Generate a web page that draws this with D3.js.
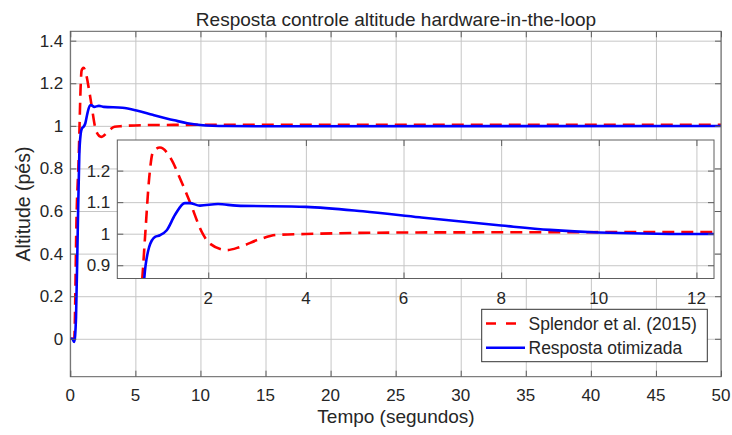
<!DOCTYPE html>
<html>
<head>
<meta charset="utf-8">
<script src="https://cdn.jsdelivr.net/npm/d3@7"></script>
<style>
  body { margin: 0; background: #fff; }
  svg text { font-family: "Liberation Sans", Arial, Helvetica, sans-serif; fill: #262626; }
</style>
</head>
<body>
<div id="chart"></div>
<script>
// values
const splendorTime = [0, 0.3, 0.49, 0.65, 0.71, 0.79, 0.87, 1.01, 1.25, 1.42, 1.62, 1.9, 2.03, 2.38, 2.65, 3.06, 3.4, 4.0, 6.3, 12.4, 50];
const splendorAlt  = [0, 0, 0.6, 0.86, 1.0, 1.176, 1.26, 1.273, 1.234, 1.176, 1.102, 0.996, 0.969, 0.948, 0.958, 0.983, 0.996, 0.999, 1.004, 1.005, 1.005];

const otimTime = [0, 0.15, 0.3, 0.44, 0.57, 0.69, 0.79, 0.91, 1.01, 1.15, 1.32, 1.52, 1.62, 1.83, 2.2, 2.58, 4.0, 5.17, 6.33, 8.0, 9.0, 10.0, 12.0, 15, 50];
const otimAlt  = [0, 0, -0.015, 0.1, 0.5, 0.86, 0.958, 0.99, 0.995, 1.011, 1.06, 1.097, 1.097, 1.089, 1.094, 1.089, 1.085, 1.071, 1.052, 1.026, 1.012, 1.004, 0.999, 0.998, 0.999];

const xTicks = [0, 5, 10, 15, 20, 25, 30, 35, 40, 45, 50];
const yTicks = [0, 0.2, 0.4, 0.6, 0.8, 1, 1.2, 1.4];
const insetXTicks = [2, 4, 6, 8, 10, 12];
const insetYTicks = [0.9, 1, 1.1, 1.2];

const seriesNames = ['Splendor et al. (2015)', 'Resposta otimizada'];
const titleText = 'Resposta controle altitude hardware-in-the-loop';
const xLabel = 'Tempo (segundos)';
const yLabel = 'Altitude (pés)';

const width = 732, height = 435;
const gridColor = '#c6c6c6', boxColor = '#5e5e5e';
const red = '#ff0000', blue = '#0000ff';

const svg = d3.select('#chart')
  .append('svg')
  .attr('width', width)
  .attr('height', height);

const splendor = d3.zip(splendorTime, splendorAlt);
const otim = d3.zip(otimTime, otimAlt);

const fmt = d => String(d);

function drawPanel(id, x, y, xt, yt, labelPad){
  const [x0, x1] = x.range();
  const [y0, y1] = y.range(); // y0 bottom, y1 top
  const g = svg.append('g').attr('class', id);

  g.append('rect')
    .attr('x', x0).attr('y', y1)
    .attr('width', x1 - x0).attr('height', y0 - y1)
    .attr('fill', '#fff');

  // grid
  g.append('g')
    .attr('transform', `translate(0,${y0})`)
    .call(d3.axisBottom(x).tickValues(xt).tickSize(-(y0 - y1)).tickFormat(''))
    .call(a => a.select('.domain').remove())
    .selectAll('line').attr('stroke', gridColor);
  g.append('g')
    .attr('transform', `translate(${x0},0)`)
    .call(d3.axisLeft(y).tickValues(yt).tickSize(-(x1 - x0)).tickFormat(''))
    .call(a => a.select('.domain').remove())
    .selectAll('line').attr('stroke', gridColor);

  svg.append('clipPath').attr('id', id + '-clip')
    .append('rect')
    .attr('x', x0).attr('y', y1)
    .attr('width', x1 - x0).attr('height', y0 - y1);

  const line = d3.line()
    .x(d => x(d[0]))
    .y(d => y(d[1]))
    .curve(d3.curveMonotoneX);

  const lines = g.append('g').attr('clip-path', `url(#${id}-clip)`);
  lines.append('path')
    .datum(splendor)
    .attr('d', line)
    .attr('fill', 'none')
    .attr('stroke', red)
    .attr('stroke-width', 2.6)
    .attr('stroke-dasharray', '12,7');
  lines.append('path')
    .datum(otim)
    .attr('d', line)
    .attr('fill', 'none')
    .attr('stroke', blue)
    .attr('stroke-width', 2.6);

  // inward tick marks on all four sides
  const tl = 6;
  const ticks = g.append('g');
  ticks.append('g').attr('transform', `translate(0,${y0})`)
    .call(d3.axisBottom(x).tickValues(xt).tickSize(-tl).tickFormat(''));
  ticks.append('g').attr('transform', `translate(0,${y1})`)
    .call(d3.axisTop(x).tickValues(xt).tickSize(-tl).tickFormat(''));
  ticks.append('g').attr('transform', `translate(${x0},0)`)
    .call(d3.axisLeft(y).tickValues(yt).tickSize(-tl).tickFormat(''));
  ticks.append('g').attr('transform', `translate(${x1},0)`)
    .call(d3.axisRight(y).tickValues(yt).tickSize(-tl).tickFormat(''));
  ticks.selectAll('.domain').remove();
  ticks.selectAll('line').attr('stroke', boxColor);

  g.append('rect')
    .attr('x', x0).attr('y', y1)
    .attr('width', x1 - x0).attr('height', y0 - y1)
    .attr('fill', 'none')
    .attr('stroke', boxColor)
    .attr('stroke-width', 1);

  // tick labels
  g.append('g').selectAll('text')
    .data(xt)
    .join('text')
    .attr('x', d => x(d))
    .attr('y', y0 + labelPad.x)
    .attr('text-anchor', 'middle')
    .attr('font-size', 17)
    .text(fmt);
  g.append('g').selectAll('text')
    .data(yt)
    .join('text')
    .attr('x', x0 - labelPad.y)
    .attr('y', d => y(d))
    .attr('dy', '0.35em')
    .attr('text-anchor', 'end')
    .attr('font-size', 17)
    .text(fmt);
}

const xMain = d3.scaleLinear([0, 50], [70.3, 721]);
const yMain = d3.scaleLinear([-0.178, 1.444], [376.7, 31.3]);
drawPanel('main', xMain, yMain, xTicks, yTicks, {x: 24.5, y: 7});

const xInset = d3.scaleLinear([0.137, 12.36], [117.3, 714]);
const yInset = d3.scaleLinear([0.858, 1.297], [278.5, 140]);
drawPanel('inset', xInset, yInset, insetXTicks, insetYTicks, {x: 25.5, y: 7});

// legend
const legend = svg.append('g').attr('class', 'legend');
legend.append('rect')
  .attr('x', 481.7).attr('y', 309.3)
  .attr('width', 225.6).attr('height', 52.4)
  .attr('fill', '#fff')
  .attr('stroke', '#333')
  .attr('stroke-width', 1);
const legendRows = [
  {name: seriesNames[0], color: red, dash: '10,10', y: 323.5},
  {name: seriesNames[1], color: blue, dash: null, y: 347.8}
];
legendRows.forEach(r => {
  legend.append('line')
    .attr('x1', 486).attr('x2', 525)
    .attr('y1', r.y).attr('y2', r.y)
    .attr('stroke', r.color)
    .attr('stroke-width', 2.6)
    .attr('stroke-dasharray', r.dash);
  legend.append('text')
    .attr('x', 528.5)
    .attr('y', r.y)
    .attr('dy', '0.35em')
    .attr('font-size', 17.5)
    .text(r.name);
});

// titles
svg.append('text')
  .attr('x', 396).attr('y', 25.5)
  .attr('text-anchor', 'middle')
  .attr('font-size', 19)
  .text(titleText);
svg.append('text')
  .attr('x', 396).attr('y', 422.5)
  .attr('text-anchor', 'middle')
  .attr('font-size', 19)
  .text(xLabel);
svg.append('text')
  .attr('transform', 'translate(29.5,204) rotate(-90)')
  .attr('text-anchor', 'middle')
  .attr('font-size', 19.5)
  .text(yLabel);
</script>
</body>
</html>
